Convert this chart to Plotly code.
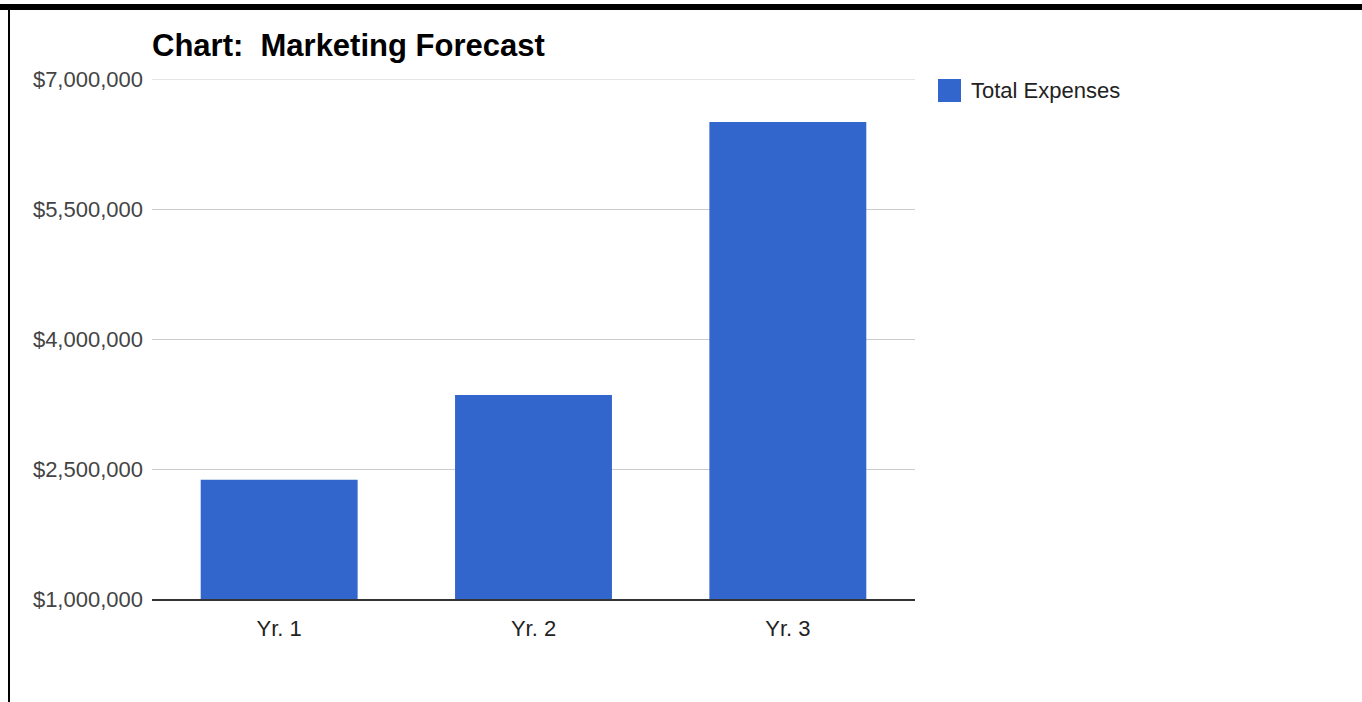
import plotly.graph_objects as go

# Chart data
categories = ["Yr. 1", "Yr. 2", "Yr. 3"]
total_expenses = [2375000, 3355000, 6505000]
series_name = "Total Expenses"
y_ticks = [1000000, 2500000, 4000000, 5500000, 7000000]

W, H = 1362, 702
ML, MR, MT, MB = 152, 447, 79, 103
PW, PH = W - ML - MR, H - MT - MB
BLUE = "#3366CC"
FONT = "Liberation Sans, Arial, sans-serif"


def px_x(px):
    return (px - ML) / PW


def px_y(py):
    return (H - MB - py) / PH


fig = go.Figure(
    go.Bar(
        x=categories,
        y=total_expenses,
        name=series_name,
        marker=dict(color=BLUE, line=dict(width=0)),
        showlegend=False,
    )
)

shapes = [
    # frame: heavy top rule and thin left rule
    dict(type="rect", xref="paper", yref="paper",
         x0=px_x(0), x1=px_x(W), y0=px_y(10), y1=px_y(4),
         fillcolor="black", line=dict(width=0), layer="above"),
    dict(type="rect", xref="paper", yref="paper",
         x0=px_x(8), x1=px_x(10), y0=px_y(H), y1=px_y(4),
         fillcolor="black", line=dict(width=0), layer="above"),
    # gridline at the top of the value range
    dict(type="line", xref="paper", yref="y",
         x0=0, x1=1, y0=y_ticks[-1], y1=y_ticks[-1],
         line=dict(color="#CCCCCC", width=1), layer="below"),
    # legend swatch
    dict(type="rect", xref="paper", yref="paper",
         x0=px_x(938), x1=px_x(961), y0=px_y(102), y1=px_y(79),
         fillcolor=BLUE, line=dict(width=0)),
]

annotations = [
    dict(text=series_name, xref="paper", yref="paper",
         x=px_x(969), y=px_y(90), xanchor="left", yanchor="middle",
         showarrow=False, font=dict(family=FONT, size=22, color="#222222")),
]

fig.update_layout(
    width=W, height=H,
    margin=dict(l=ML, r=MR, t=MT, b=MB),
    paper_bgcolor="white", plot_bgcolor="white",
    bargap=0.383,
    font=dict(family=FONT, size=22, color="#444444"),
    title=dict(text="<b>Chart:  Marketing Forecast</b>",
               x=0, xref="paper", xanchor="left",
               y=1 - 45 / H, yref="container", yanchor="middle",
               font=dict(family=FONT, size=31, color="black")),
    shapes=shapes,
    annotations=annotations,
    xaxis=dict(showgrid=False, showline=True, linecolor="#333333", linewidth=2,
               ticks="", ticklabelstandoff=9,
               tickfont=dict(size=22, color="#222222")),
    yaxis=dict(range=[1000000, 7000000], tickvals=y_ticks, tickformat="$,.0f",
               showgrid=True, gridcolor="#CCCCCC", gridwidth=1,
               zeroline=False, showline=False, ticks="", ticklabelstandoff=8,
               tickfont=dict(size=22, color="#444444")),
)

fig.write_html("out.html")
